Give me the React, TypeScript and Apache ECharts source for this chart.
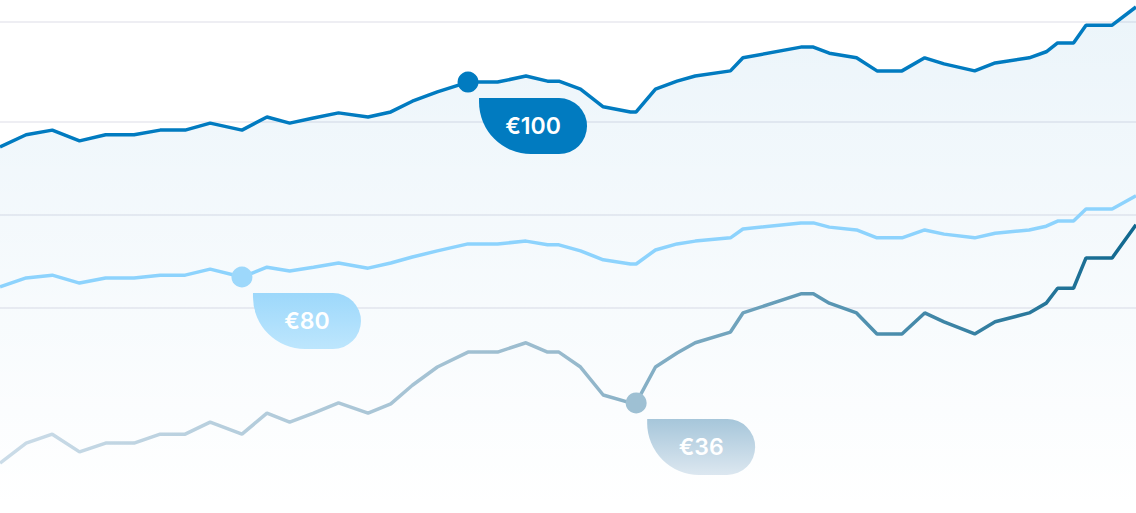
import React, { useEffect, useRef } from 'react';
import * as echarts from 'echarts';

// x positions of the points (0 = left edge, 100 = right edge)
const days = [
  0, 2.3, 4.6, 7.0, 9.3, 11.8, 14.1, 16.3, 18.5, 21.3,
  23.5, 25.5, 27.6, 29.8, 32.4, 34.4, 36.3, 38.5, 41.2, 43.8,
  46.3, 48.2, 49.2, 51.1, 53.1, 55.5, 56.0, 57.7, 59.6, 61.2,
  64.3, 65.4, 70.5, 71.6, 73.0, 75.4, 77.2, 79.4, 81.4, 83.1,
  85.8, 87.6, 90.6, 92.1, 93.1, 94.5, 95.6, 97.9, 100,
];

const topValues = [
  74.5, 77.1, 78.1, 75.8, 77.1, 77.1, 78.1, 78.1, 79.6, 78.1,
  80.9, 79.6, 80.7, 81.8, 80.9, 82.0, 84.3, 86.3, 88.4, 88.4,
  89.7, 88.6, 88.6, 86.9, 83.1, 82.0, 82.0, 86.9, 88.6, 89.7,
  90.8, 93.6, 95.9, 95.9, 94.6, 93.6, 90.8, 90.8, 93.6, 92.3,
  90.8, 92.5, 93.6, 94.9, 96.8, 96.8, 100.6, 100.6, 104.5,
];

const midValues = [
  44.5, 46.4, 47.0, 45.3, 46.4, 46.4, 47.0, 47.0, 48.3, 46.6,
  48.7, 47.9, 48.7, 49.6, 48.5, 49.6, 50.9, 52.2, 53.7, 53.7,
  54.3, 53.5, 53.5, 52.2, 50.3, 49.4, 49.4, 52.4, 53.7, 54.3,
  55.0, 56.9, 58.2, 58.2, 57.3, 56.7, 55.0, 55.0, 56.7, 55.8,
  55.0, 56.0, 56.7, 57.5, 58.6, 58.6, 61.2, 61.2, 64.0,
];

const lowValues = [
  6.7, 11.0, 12.9, 9.1, 11.0, 11.0, 12.9, 12.9, 15.5, 12.9,
  17.4, 15.5, 17.4, 19.6, 17.4, 19.4, 23.4, 27.3, 30.5, 30.5,
  32.5, 30.5, 30.5, 27.3, 21.3, 19.6, 19.6, 27.3, 30.3, 32.5,
  34.8, 38.9, 43.0, 43.0, 41.0, 38.9, 34.4, 34.4, 38.9, 37.0,
  34.4, 37.0, 38.9, 41.0, 44.2, 44.2, 50.7, 50.7, 57.8,
];

const gridLines = [40, 60, 80, 101.3];
const priceLabels = ['€100', '€80', '€36'];
const markedIndex = [18, 9, 26];

const vGrad = (a: string, b: string) =>
  new echarts.graphic.LinearGradient(0, 0, 0, 1, [
    { offset: 0, color: a },
    { offset: 1, color: b },
  ]);

const buildData = (values: number[], idx: number, text: string, color: string, bg: any) =>
  values.map((v, i) => {
    if (i !== idx) return [days[i], v];
    return {
      value: [days[i], v],
      symbol: 'circle',
      symbolSize: 21,
      itemStyle: { color },
      label: {
        show: true,
        position: 'inside',
        offset: [65, 44],
        formatter: text,
        color: '#ffffff',
        fontFamily: 'Inter',
        fontSize: 23,
        fontWeight: 600,
        width: 108,
        height: 56,
        lineHeight: 56,
        align: 'center',
        verticalAlign: 'middle',
        backgroundColor: bg,
        borderRadius: [0, 28, 28, 52],
      },
    };
  });

const App: React.FC = () => {
  const chartRef = useRef<HTMLDivElement | null>(null);

  useEffect(() => {
    if (!chartRef.current) return;
    const myChart = echarts.init(chartRef.current, null, { renderer: 'svg' });

    const option = {
      animation: false,
      backgroundColor: '#ffffff',
      grid: { left: 0, right: 0, top: 0, bottom: 0 },
      xAxis: { type: 'value', min: 0, max: 100, show: false },
      yAxis: { type: 'value', min: -4, max: 106, show: false, splitLine: { show: false } },
      series: [
        {
          // horizontal guide lines only
          name: 'guides',
          type: 'line',
          z: 1,
          symbol: 'none',
          data: [],
          markLine: {
            z: 1,
            silent: true,
            symbol: ['none', 'none'],
            label: { show: false },
            lineStyle: { color: '#e9e9ef', width: 1.5, type: 'solid' },
            data: gridLines.map((y) => ({ yAxis: y })),
          },
        },
        {
          name: 'top',
          type: 'line',
          symbol: 'none',
          showSymbol: true,
          showAllSymbol: true,
          z: 2,
          lineStyle: { color: '#017BC0', width: 3.5 },
          areaStyle: {
            origin: 'start',
            color: vGrad('rgba(0,121,193,0.11)', 'rgba(0,121,193,0.0)'),
          },
          emphasis: { disabled: true },
          data: buildData(topValues, markedIndex[0], priceLabels[0], '#017BC0', '#017BC0'),
        },
        {
          name: 'mid',
          type: 'line',
          symbol: 'none',
          showSymbol: true,
          showAllSymbol: true,
          z: 3,
          lineStyle: { color: '#8DD3FD', width: 3.5 },
          emphasis: { disabled: true },
          data: buildData(midValues, markedIndex[1], priceLabels[1], '#9DD8FB', vGrad('#9DD8FB', '#BDE6FD')),
        },
        {
          name: 'low',
          type: 'line',
          symbol: 'none',
          showSymbol: true,
          showAllSymbol: true,
          z: 3,
          lineStyle: {
            width: 3.5,
            color: new echarts.graphic.LinearGradient(0, 0, 1, 0, [
              { offset: 0, color: '#CBDCE8' },
              { offset: 0.5, color: '#98BACD' },
              { offset: 0.75, color: '#5493B1' },
              { offset: 1, color: '#10688F' },
            ]),
          },
          emphasis: { disabled: true },
          data: buildData(lowValues, markedIndex[2], priceLabels[2], '#9EC0D3', vGrad('#A6C6DA', '#DCE7F0')),
        },
      ],
    };

    myChart.setOption(option);

    return () => {
      myChart.dispose();
    };
  }, []);

  return (
    <div
      ref={chartRef}
      style={{ position: 'fixed', left: 0, top: 0, width: 1136, height: 513 }}
    ></div>
  );
};

export default App;
